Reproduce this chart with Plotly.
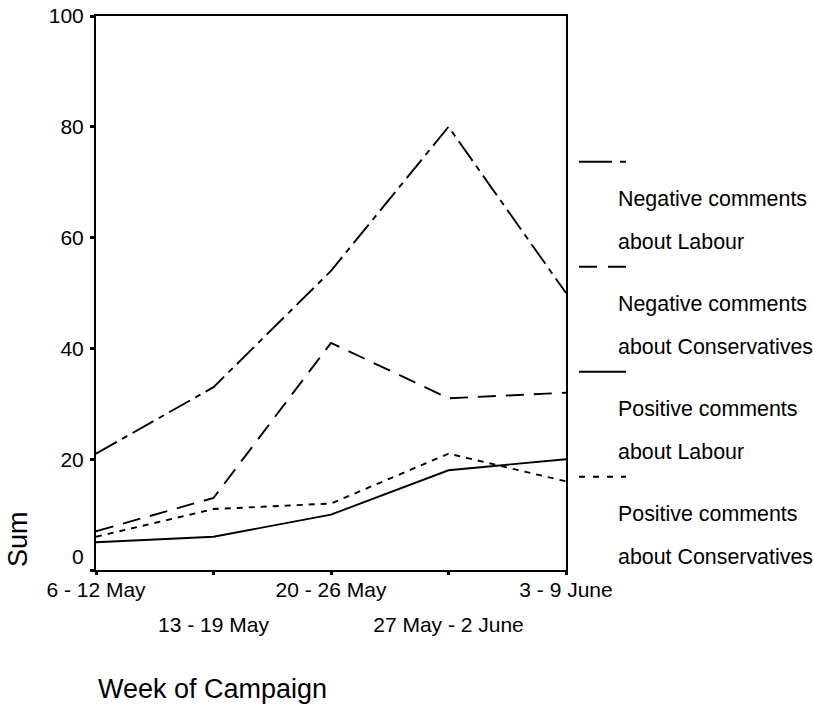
import plotly.graph_objects as go

# ---------------- data ----------------
weeks = ["6 - 12 May", "13 - 19 May", "20 - 26 May", "27 May - 2 June", "3 - 9 June"]
neg_labour = [21, 33, 54, 80, 50]
neg_cons = [7, 13, 41, 31, 32]
pos_labour = [5, 6, 10, 18, 20]
pos_cons = [6, 11, 12, 21, 16]
y_tick_vals = [0, 20, 40, 60, 80, 100]
y_tick_text = ["0<br>&nbsp;", "20", "40", "60", "80", "100"]
series_names = [
    "Negative comments about Labour",
    "Negative comments about Conservatives",
    "Positive comments about Labour",
    "Positive comments about Conservatives",
]
legend_text = [
    ["Negative comments", "about Labour"],
    ["Negative comments", "about Conservatives"],
    ["Positive comments", "about Labour"],
    ["Positive comments", "about Conservatives"],
]
x_title = "Week of Campaign"
y_title = "Sum"

# ---------------- layout geometry ----------------
W, H = 813, 705
L, R, T, B = 96, 247, 16, 135
PW, PH = W - L - R, H - T - B
FONT = "Liberation Sans, Arial, Helvetica, sans-serif"
FS = 21
FS_LEG = 21.4
FS_TITLE = 27


def fx(px):
    return (px - L) / PW


def fy(py):
    return (H - B - py) / PH


series = [neg_labour, neg_cons, pos_labour, pos_cons]
dashes = ["24px,6px,6px,6px", "18px,10px", "solid", "6px,6px"]
legend_dashes = ["33px,8px,6px,8px", "18px,11px", "solid", "6px,8px"]

fig = go.Figure()
for name, vals, dash in zip(series_names, series, dashes):
    fig.add_trace(go.Scatter(
        x=weeks, y=vals, mode="lines", name=name, showlegend=False,
        line=dict(color="black", width=1.9, dash=dash),
        xaxis="x", yaxis="y",
    ))
# invisible carrier trace for the secondary (staggered) label axis
fig.add_trace(go.Scatter(x=weeks, y=neg_labour, mode="lines", opacity=0,
                         showlegend=False, hoverinfo="skip", xaxis="x2", yaxis="y"))

shapes = []
annotations = []
for i, (lines, ld) in enumerate(zip(legend_text, legend_dashes)):
    sy = 161.7 + 105 * i
    shapes.append(dict(type="line", xref="paper", yref="paper",
                       x0=fx(579), x1=fx(626), y0=fy(sy), y1=fy(sy),
                       line=dict(color="black", width=2, dash=ld)))
    for j, txt in enumerate(lines):
        annotations.append(dict(
            text=txt, xref="paper", yref="paper", x=fx(616), y=fy(sy + 37.5 + 43 * j),
            xanchor="left", yanchor="middle", showarrow=False,
            font=dict(family=FONT, size=FS_LEG, color="black")))

annotations.append(dict(text=x_title, xref="paper", yref="paper", x=fx(96), y=fy(689),
                        xanchor="left", yanchor="middle", showarrow=False,
                        font=dict(family=FONT, size=FS_TITLE, color="black")))
annotations.append(dict(text=y_title, xref="paper", yref="paper", x=fx(18), y=fy(539),
                        xanchor="center", yanchor="middle", showarrow=False, textangle=-90,
                        font=dict(family=FONT, size=FS_TITLE, color="black")))

fig.update_layout(
    width=W, height=H, autosize=False,
    margin=dict(l=L, r=R, t=T, b=B, pad=0, autoexpand=False),
    paper_bgcolor="white", plot_bgcolor="white",
    font=dict(family=FONT, size=FS, color="black"),
    shapes=shapes, annotations=annotations,
    xaxis=dict(
        type="category", categoryorder="array", categoryarray=weeks,
        range=[0, 4], tickmode="array", tickvals=weeks,
        ticktext=[w if k % 2 == 0 else "" for k, w in enumerate(weeks)],
        showline=True, linecolor="black", linewidth=2, mirror=True,
        ticks="outside", ticklen=3, tickwidth=3, tickcolor="black",
        showgrid=False, zeroline=False, tickfont=dict(size=FS),
        automargin=False, ticklabelstandoff=-3,
    ),
    xaxis2=dict(
        type="category", categoryorder="array", categoryarray=weeks,
        range=[0, 4], overlaying="x", anchor="y", side="bottom",
        tickmode="array", tickvals=weeks,
        ticktext=[w if k % 2 == 1 else "" for k, w in enumerate(weeks)],
        showline=False, ticks="", showgrid=False, zeroline=False,
        ticklabelstandoff=40, tickfont=dict(size=FS), automargin=False,
    ),
    yaxis=dict(
        range=[0, 100], tickmode="array", tickvals=y_tick_vals, ticktext=y_tick_text,
        showline=True, linecolor="black", linewidth=2, mirror=True,
        ticks="outside", ticklen=4, tickwidth=3, tickcolor="black",
        showgrid=False, zeroline=False, tickfont=dict(size=FS),
        automargin=False, ticklabelstandoff=2,
    ),
)

fig.write_html(
    "out.html",
    config={"displayModeBar": False},
    post_script="document.body.style.margin='0';document.body.style.overflow='hidden';",
)
